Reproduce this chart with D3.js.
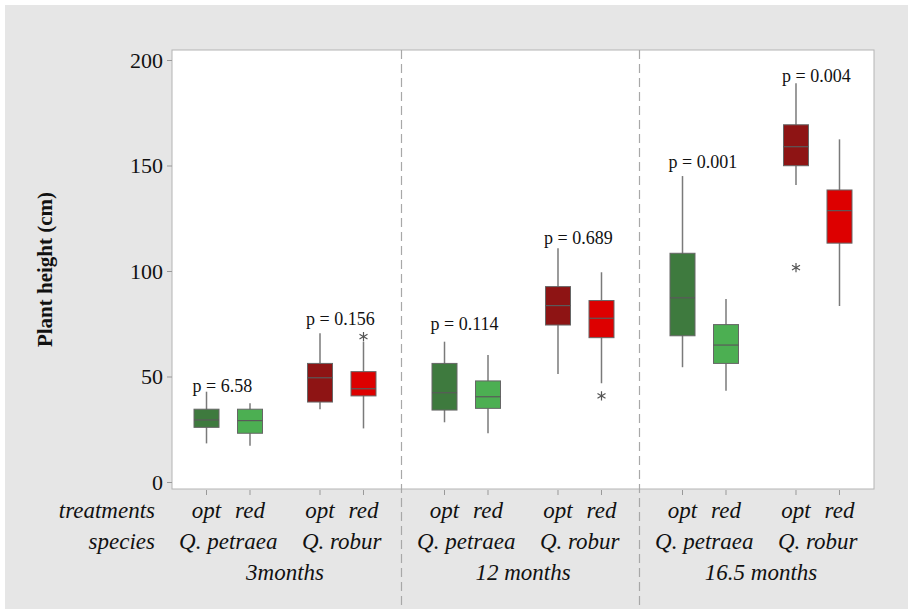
<!DOCTYPE html>
<html>
<head>
<meta charset="utf-8">
<script src="https://cdn.jsdelivr.net/npm/d3@7"></script>
<style>
  body { margin: 0; background: #fff; }
  svg, svg text { font-family: "Liberation Serif", "Times New Roman", serif; }
</style>
</head>
<body>
<div id="chart"></div>
<script>
// Plant height boxplots, three ages x two species x two treatments
var periods = ['3months', '12 months', '16.5 months'];
var species = ['Q. petraea', 'Q. robur'];
var treatments = ['opt', 'red'];

// one entry per box, order: period > species > treatment
var whiskerLow  = [18.3, 17.2, 34.5, 25.4,  28.3, 23.1, 51.2, 46.8,  54.4, 43.3, 140.8, 83.4];
var q1          = [25.9, 23.1, 37.9, 40.8,  34.1, 34.9, 74.4, 68.4,  69.3, 56.2, 149.9, 113.2];
var median      = [29.4, 29.1, 49.4, 44.2,  42.3, 40.4, 83.6, 77.6,  87.3, 64.9, 158.9, 128.6];
var q3          = [34.5, 34.5, 56.2, 52.3,  56.2, 47.9, 92.6, 86.0, 108.4, 74.6, 169.3, 138.4];
var whiskerHigh = [42.8, 37.3, 70.5, 66.5,  66.5, 60.2, 110.8, 99.4, 145.0, 86.7, 189.0, 162.4];
var outliers    = [[], [], [], [68.9],  [], [], [], [40.8],  [], [], [101.6], []];

// p values per period x species, with the height (cm) they sit at
var pValues = ['6.58', '0.156', '0.114', '0.689', '0.001', '0.004'];
var pLabelAt = [42.7, 74.4, 72, 113, 148.8, 189.7];

var yTicks = [0, 50, 100, 150, 200];

var colors = {
    'Q. petraea|opt': '#3e7a3e',
    'Q. petraea|red': '#4caf52',
    'Q. robur|opt': '#8e1414',
    'Q. robur|red': '#dd0000'
};

var width = 908, height = 609;
var plot = { left: 172, right: 874, top: 50, bottom: 489 };

var svg = d3.select('#chart').append('svg')
    .attr('width', width)
    .attr('height', height);

// gray outer panel
svg.append('rect')
    .attr('x', 5).attr('y', 5)
    .attr('width', width - 5).attr('height', height - 5)
    .attr('fill', '#e6e6e6');

svg.append('rect')
    .attr('x', plot.left).attr('y', plot.top)
    .attr('width', plot.right - plot.left)
    .attr('height', plot.bottom - plot.top)
    .attr('fill', '#fff')
    .attr('stroke', '#b4b4b4')
    .attr('stroke-width', 1);

// nested band scales
var xPeriod = d3.scaleBand()
    .domain(periods)
    .range([plot.left, plot.right])
    .paddingInner(0)
    .paddingOuter(-0.0252);

var xSpecies = d3.scaleBand()
    .domain(species)
    .range([0, xPeriod.bandwidth()])
    .paddingInner(0)
    .paddingOuter(0.0485);

var xTreat = d3.scaleBand()
    .domain(treatments)
    .range([0, xSpecies.bandwidth()])
    .paddingInner(0)
    .paddingOuter(0.3046);

var y = d3.scaleLinear()
    .domain([0, 200])
    .range([482, 60]);

function speciesLeft(p, s) {
    return xPeriod(p) + xSpecies(s);
}
function boxCenter(p, s, t) {
    return speciesLeft(p, s) + xTreat(t) + xTreat.bandwidth() / 2;
}

// build box list from arrays
var boxes = [];
periods.forEach(function(p) {
    species.forEach(function(s) {
        treatments.forEach(function(t) {
            var i = boxes.length;
            boxes.push({
                period: p, species: s, treatment: t,
                lo: whiskerLow[i], q1: q1[i], med: median[i], q3: q3[i], hi: whiskerHigh[i],
                out: outliers[i],
                cx: boxCenter(p, s, t)
            });
        });
    });
});

// y axis
var yAxis = svg.append('g')
    .attr('transform', 'translate(' + plot.left + ',0)')
    .call(d3.axisLeft(y).tickValues(yTicks).tickSize(5).tickPadding(4));
yAxis.attr('font-family', null).attr('font-size', null);
yAxis.select('.domain').remove();
yAxis.selectAll('line').attr('stroke', '#999');
yAxis.selectAll('text')
    .style('font-family', '"Liberation Serif", serif')
    .attr('font-size', '22px')
    .attr('fill', '#111');

svg.append('text')
    .attr('transform', 'translate(52,' + ((plot.top + plot.bottom) / 2) + ') rotate(-90)')
    .attr('text-anchor', 'middle')
    .attr('font-size', '21px')
    .attr('font-weight', 'bold')
    .attr('fill', '#111')
    .text('Plant height (cm)');

// dashed separators between periods
svg.selectAll('.sep')
    .data(periods.slice(1))
    .enter()
    .append('line')
    .attr('class', 'sep')
    .attr('x1', function(d) { return Math.round(xPeriod(d)) - 2.5; })
    .attr('x2', function(d) { return Math.round(xPeriod(d)) - 2.5; })
    .attr('y1', plot.top)
    .attr('y2', height)
    .attr('stroke', '#a8a8a8')
    .attr('stroke-width', 1.2)
    .attr('stroke-dasharray', '9,5');

// x ticks
svg.selectAll('.xtick')
    .data(boxes)
    .enter()
    .append('line')
    .attr('class', 'xtick')
    .attr('x1', function(d) { return d.cx; })
    .attr('x2', function(d) { return d.cx; })
    .attr('y1', plot.bottom + 1)
    .attr('y2', plot.bottom + 6)
    .attr('stroke', '#999');

var boxW = 25;
var bg = svg.selectAll('.box')
    .data(boxes)
    .enter()
    .append('g')
    .attr('class', 'box');

// whiskers
bg.append('line')
    .attr('x1', function(d) { return d.cx; })
    .attr('x2', function(d) { return d.cx; })
    .attr('y1', function(d) { return y(d.hi); })
    .attr('y2', function(d) { return y(d.lo); })
    .attr('stroke', '#7a7a7a')
    .attr('stroke-width', 1.5);

bg.append('rect')
    .attr('x', function(d) { return d.cx - boxW / 2; })
    .attr('y', function(d) { return y(d.q3); })
    .attr('width', boxW)
    .attr('height', function(d) { return y(d.q1) - y(d.q3); })
    .attr('fill', function(d) { return colors[d.species + '|' + d.treatment]; })
    .attr('stroke', '#666')
    .attr('stroke-width', 1);

bg.append('line')
    .attr('x1', function(d) { return d.cx - boxW / 2; })
    .attr('x2', function(d) { return d.cx + boxW / 2; })
    .attr('y1', function(d) { return y(d.med); })
    .attr('y2', function(d) { return y(d.med); })
    .attr('stroke', '#5a5a5a')
    .attr('stroke-width', 1.2);

// outliers as asterisks
var star = d3.symbol().type(d3.symbolAsterisk).size(60);
bg.each(function(d) {
    d3.select(this).selectAll('.out')
        .data(d.out)
        .enter()
        .append('path')
        .attr('class', 'out')
        .attr('d', star)
        .attr('transform', function(v) { return 'translate(' + d.cx + ',' + y(v) + ')'; })
        .attr('fill', 'none')
        .attr('stroke', '#555')
        .attr('stroke-width', 1.2);
});

// p value labels
var pairs = [];
periods.forEach(function(p) {
    species.forEach(function(s) { pairs.push({ period: p, species: s }); });
});
svg.selectAll('.pval')
    .data(pairs)
    .enter()
    .append('text')
    .attr('class', 'pval')
    .attr('x', function(d) { return boxCenter(d.period, d.species, 'opt') - 14; })
    .attr('y', function(d, i) { return y(pLabelAt[i]); })
    .attr('font-size', '18px')
    .attr('fill', '#111')
    .text(function(d, i) { return 'p = ' + pValues[i]; });

// category labels below the axis
var labelFont = '23px';
svg.selectAll('.tlab')
    .data(boxes)
    .enter()
    .append('text')
    .attr('x', function(d) { return d.cx; })
    .attr('y', 518)
    .attr('text-anchor', 'middle')
    .attr('font-style', 'italic')
    .attr('font-size', labelFont)
    .attr('fill', '#111')
    .text(function(d) { return d.treatment; });

svg.selectAll('.slab')
    .data(pairs)
    .enter()
    .append('text')
    .attr('x', function(d) { return speciesLeft(d.period, d.species) + xSpecies.bandwidth() / 2; })
    .attr('y', 549)
    .attr('text-anchor', 'middle')
    .attr('font-style', 'italic')
    .attr('font-size', labelFont)
    .attr('fill', '#111')
    .text(function(d) { return d.species; });

svg.selectAll('.plab')
    .data(periods)
    .enter()
    .append('text')
    .attr('x', function(d) { return xPeriod(d) + xPeriod.bandwidth() / 2; })
    .attr('y', 580)
    .attr('text-anchor', 'middle')
    .attr('font-style', 'italic')
    .attr('font-size', labelFont)
    .attr('fill', '#111')
    .text(function(d) { return d; });

svg.selectAll('.rowlab')
    .data(['treatments', 'species'])
    .enter()
    .append('text')
    .attr('x', 155)
    .attr('y', function(d, i) { return i === 0 ? 518 : 549; })
    .attr('text-anchor', 'end')
    .attr('font-style', 'italic')
    .attr('font-size', labelFont)
    .attr('fill', '#111')
    .text(function(d) { return d; });
</script>
</body>
</html>
